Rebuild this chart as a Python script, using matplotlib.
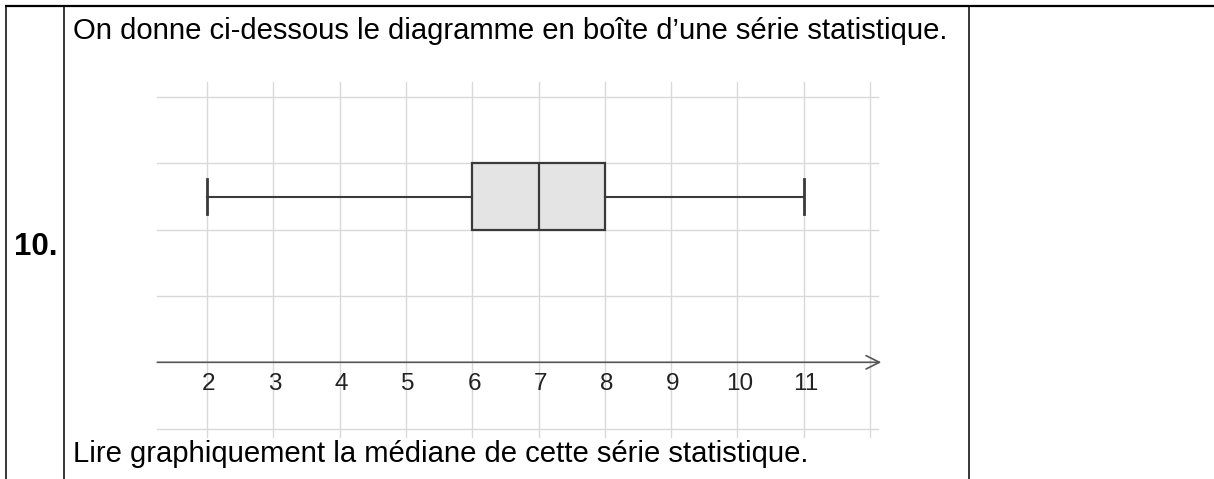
import matplotlib
matplotlib.use("Agg")
import matplotlib.pyplot as plt
import numpy as np

plt.rcParams['font.family'] = ['Liberation Sans', 'DejaVu Sans']

# valeurs du diagramme en boîte
stat_min = 2
stat_q1 = 6
stat_med = 7
stat_q3 = 8
stat_max = 11
tick_values = [2, 3, 4, 5, 6, 7, 8, 9, 10, 11]

question_num = "10."
text_top = "On donne ci-dessous le diagramme en boîte d\u2019une série statistique."
text_bottom = "Lire graphiquement la médiane de cette série statistique."

W, H = 1214, 479
fig = plt.figure(figsize=(W / 100, H / 100), dpi=100)

# tableau (coordonnées en pixels)
ax0 = fig.add_axes([0, 0, 1, 1])
ax0.set_xlim(0, W)
ax0.set_ylim(H, 0)
ax0.axis('off')
ax0.plot([5, W], [6, 6], color='black', lw=1.6, solid_capstyle='butt')
for xv in [6, 64, 969]:
    ax0.plot([xv, xv], [6, H], color='black', lw=1.1, solid_capstyle='butt')
ax0.text(73, 38.5, text_top, fontsize=21.1, va='baseline', ha='left', color='black')
ax0.text(73, 462, text_bottom, fontsize=21.1, va='baseline', ha='left', color='black')
ax0.text(14, 255, question_num, fontsize=22.5, fontweight='bold', va='baseline', ha='left')

# zone du graphique : 66.3 px par unité, x=2 -> 207 px, y=0 -> 362.3 px
u = 66.3
xlo, xhi = 1.0, 12.5
ylo, yhi = -1.5, 4.5
left_px = 207 + (xlo - 2) * u
top_px = 362.3 - yhi * u
w_px = (xhi - xlo) * u
h_px = (yhi - ylo) * u
ax = fig.add_axes([left_px / W, (H - top_px - h_px) / H, w_px / W, h_px / H])
ax.set_xlim(xlo, xhi)
ax.set_ylim(ylo, yhi)
ax.axis('off')

grid_c = '#d9d9d9'
gx0, gx1 = 1.25, 12.12
gy0, gy1 = -1.12, 4.23
for gx in np.arange(2, 13):
    ax.plot([gx, gx], [gy0, gy1], color=grid_c, lw=1.0, zorder=1)
for gy in np.arange(-1, 5):
    if gy == 0:
        continue
    ax.plot([gx0, gx1], [gy, gy], color=grid_c, lw=1.0, zorder=1)

# axe horizontal avec flèche
ax.annotate('', xy=(12.17, 0), xytext=(gx0, 0),
            arrowprops=dict(arrowstyle='->', color='#555555', lw=1.2,
                            mutation_scale=24, shrinkA=0, shrinkB=0),
            zorder=3)
for tv in tick_values:
    ax.text(tv + 0.03, -0.32, str(tv), fontsize=17.5, ha='center', va='center',
            color='#222222', zorder=4)

stats = [dict(whislo=stat_min, q1=stat_q1, med=stat_med, q3=stat_q3, whishi=stat_max,
              fliers=[])]
edge = '#3a3a3a'
ax.bxp(stats, positions=[2.5], widths=1.0, capwidths=0.54, orientation='horizontal',
       patch_artist=True, showfliers=False, manage_ticks=False,
       boxprops=dict(facecolor='#e4e4e4', edgecolor=edge, lw=1.6),
       medianprops=dict(color=edge, lw=1.6),
       whiskerprops=dict(color=edge, lw=1.5),
       capprops=dict(color=edge, lw=2.0),
       zorder=5)
ax.axis('off')

fig.savefig('out.png', dpi=100)
